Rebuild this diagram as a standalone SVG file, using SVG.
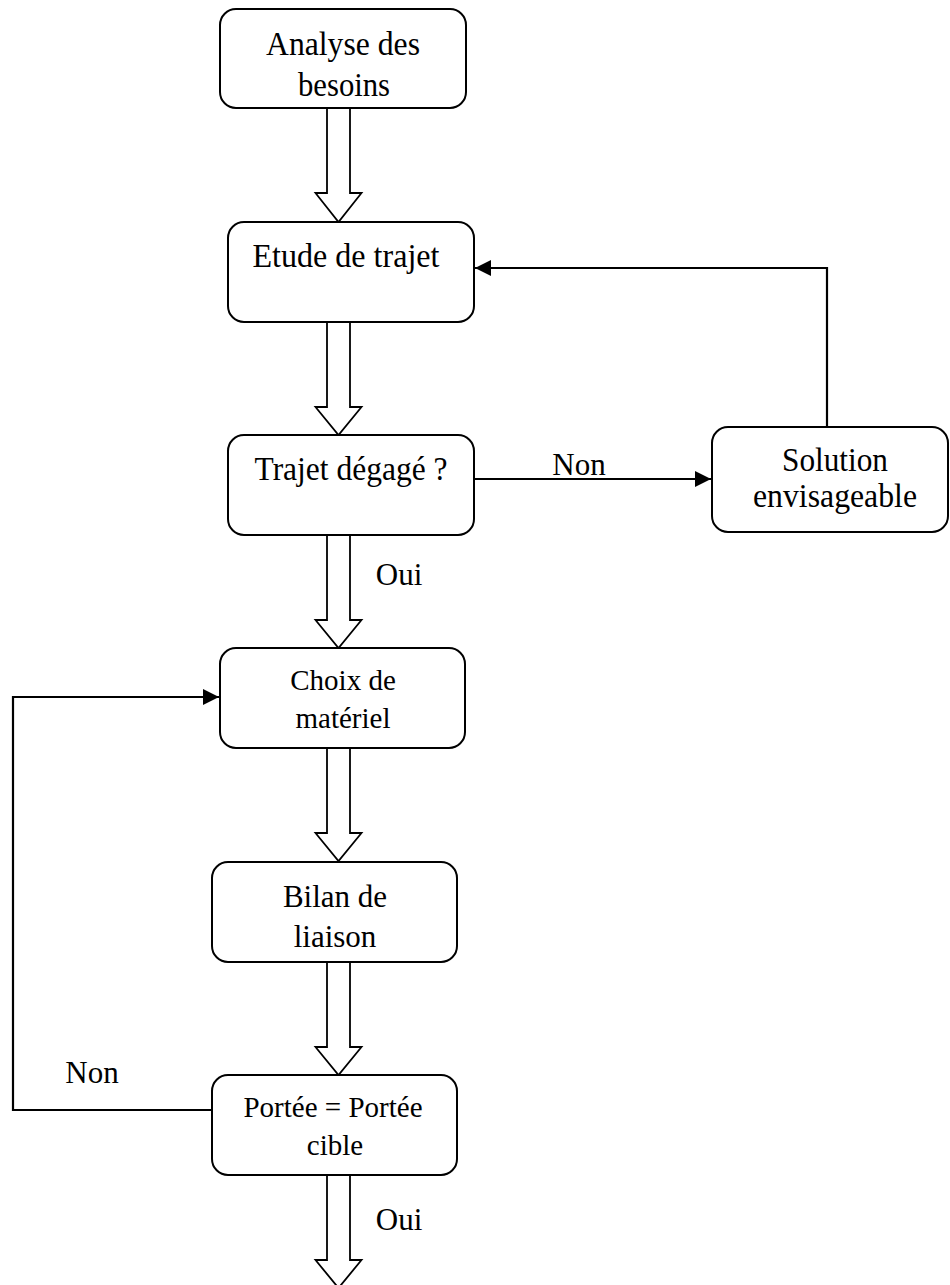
<svg xmlns="http://www.w3.org/2000/svg" width="950" height="1285" viewBox="0 0 950 1285">
<defs>
<style>
.box{fill:#fff;stroke:#000;stroke-width:2}
.t{font-family:"Liberation Serif","Times New Roman",serif;font-size:31px;fill:#000;text-anchor:middle}
.s{font-size:29px}
.b{font-size:33px}
.big{fill:#fff;stroke:#000;stroke-width:1.8;stroke-linejoin:miter}
.ln{fill:none;stroke:#000;stroke-width:2.2}
</style>
<marker id="ah" markerWidth="16" markerHeight="16" refX="16" refY="8" orient="auto" markerUnits="userSpaceOnUse">
<path d="M0,0 L16,8 L0,16 Z" fill="#000"/>
</marker>
</defs>
<g id="connectors">
<path class="big" d="M327,108 V193 H315.5 L338.5,222 L361.5,193 H350 V108"/>
<path class="big" d="M327,322 V407 H315.5 L338.5,435 L361.5,407 H350 V322"/>
<path class="big" d="M327,535 V620 H315.5 L338.5,648 L361.5,620 H350 V535"/>
<path class="big" d="M327,748 V833 H315.5 L338.5,861 L361.5,833 H350 V748"/>
<path class="big" d="M327,962 V1047 H315.5 L338.5,1075 L361.5,1047 H350 V962"/>
<path class="big" d="M327,1175 V1260 H315.5 L338.5,1288 L361.5,1260 H350 V1175"/>
<path class="ln" d="M474,479 H711" marker-end="url(#ah)"/>
<path class="ln" d="M827,427 V268 H475" marker-end="url(#ah)"/>
<path class="ln" d="M212,1110 H13 V697 H219" marker-end="url(#ah)"/>
<text class="t" x="579" y="475">Non</text>
<text class="t" x="399" y="585">Oui</text>
<text class="t" x="92" y="1083">Non</text>
<text class="t" x="399" y="1230">Oui</text>
</g>
<g id="n1"><rect class="box" x="220" y="9" width="246" height="99" rx="16"/><text class="t b" x="343" y="55" textLength="154" lengthAdjust="spacingAndGlyphs">Analyse des</text><text class="t b" x="344" y="96" textLength="92" lengthAdjust="spacingAndGlyphs">besoins</text></g>
<g id="n2"><rect class="box" x="228" y="222" width="246" height="100" rx="16"/><text class="t b" x="346" y="267" textLength="187" lengthAdjust="spacingAndGlyphs">Etude de trajet</text></g>
<g id="n3"><rect class="box" x="228" y="435" width="246" height="100" rx="16"/><text class="t b" x="351" y="480" textLength="193" lengthAdjust="spacingAndGlyphs">Trajet dégagé ?</text></g>
<g id="n4"><rect class="box" x="712" y="427" width="236" height="105" rx="16"/><text class="t b" x="835" y="471" textLength="106" lengthAdjust="spacingAndGlyphs">Solution</text><text class="t b" x="835" y="507" textLength="164" lengthAdjust="spacingAndGlyphs">envisageable</text></g>
<g id="n5"><rect class="box" x="220" y="648" width="245" height="100" rx="16"/><text class="t s" x="343" y="690">Choix de</text><text class="t s" x="343" y="728">matériel</text></g>
<g id="n6"><rect class="box" x="212" y="862" width="245" height="100" rx="16"/><text class="t" x="335" y="907">Bilan de</text><text class="t" x="335" y="947">liaison</text></g>
<g id="n7"><rect class="box" x="212" y="1075" width="245" height="100" rx="16"/><text class="t s" x="333" y="1117">Portée = Portée</text><text class="t s" x="335" y="1155">cible</text></g>
</svg>
